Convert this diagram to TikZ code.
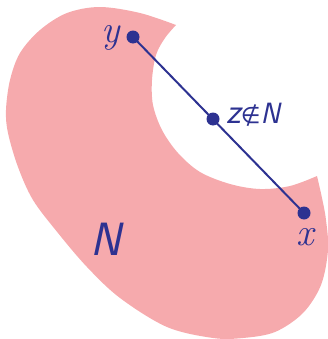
\RequirePackage{fix-cm}
\documentclass[tikz,border=0pt]{standalone}
\usepackage{fontspec}
\newfontfamily\symfont{DejaVu Sans}
\definecolor{npink}{RGB}{246,170,173}
\definecolor{nblue}{RGB}{45,50,145}
\begin{document}
\begin{tikzpicture}[x=0.75pt,y=-0.75pt,
  dot/.style={circle,fill=nblue,inner sep=0pt,minimum size=9.75pt},
  lbl/.style={text=nblue,inner sep=0pt},
  seg/.style={draw=nblue,line width=1.5pt}]
\useasboundingbox (0,0) rectangle (328,339);
\fill[npink] plot[smooth,tension=0.55] coordinates {(176,25) (140,13) (100,7) (67,13) (40,30) (20,53) (10,80) (6,110) (8,133) (18,167) (33,200) (58,233) (87,267) (120,298) (167,327) (213,338) (243,338) (275,332) (303,313) (321,285) (328,250) (326,220) (322,198) (317,176)}
  -- plot[smooth,tension=0.55] coordinates {(317,176) (290,186) (260,189) (230,184) (200,172) (178,153) (162,130) (153,105) (152,80) (156,55) (165,38) (176,25)} -- cycle;
\node[dot] (y) at (133,37) {};
\node[dot] (z) at (213,119) {};
\node[dot] (x) at (304,213) {};
\draw[seg] (y.center) -- (x.center);
\node[lbl,anchor=base,font=\fontsize{29}{30}\selectfont\itshape] (ylab) at (111,42) {y};
\node[lbl,anchor=base,font=\fontsize{29}{30}\selectfont\itshape] (xlab) at (305,245) {x};
\node[lbl,anchor=base west] (zlab) at (226,123) {{\fontsize{27}{28}\selectfont\sffamily\itshape z}{\fontsize{17}{18}\selectfont\symfont ∉}{\fontsize{22}{24}\selectfont\sffamily\itshape N}};
\node[lbl,anchor=base west,font=\fontsize{35}{36}\selectfont\sffamily\itshape] (Nlab) at (90,255) {N};
\end{tikzpicture}
\end{document}
